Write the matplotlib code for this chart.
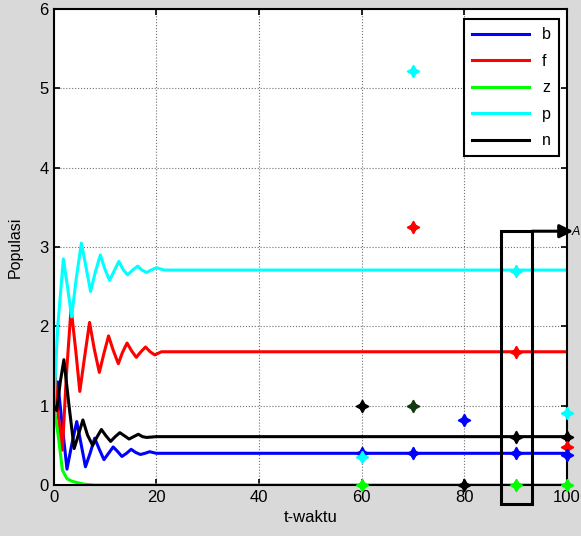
import matplotlib
matplotlib.use("Agg")
import matplotlib.pyplot as plt
from matplotlib.patches import Rectangle

plt.rcParams['font.family'] = ['Liberation Sans', 'DejaVu Sans']

# transient curves (t, value)
t_b = [0, 0.4, 0.8, 1.6, 2.6, 3.5, 4.5, 5.4, 6.2, 7.1, 8.0, 8.9, 9.8, 10.7, 11.6, 12.5, 13.3, 14.2,
       15.1, 16.0, 16.9, 17.8, 18.7, 20, 25, 100]
y_b = [0.9, 1.1, 1.3, 0.8, 0.2, 0.5, 0.8, 0.5, 0.23, 0.4, 0.59, 0.45, 0.32, 0.40, 0.48, 0.42, 0.36, 0.40,
       0.45, 0.41, 0.385, 0.40, 0.42, 0.40, 0.40, 0.40]

t_f = [0, 0.7, 1.7, 2.5, 3.4, 4.3, 5.1, 6.0, 7.0, 7.9, 8.9, 9.8, 10.7, 11.6, 12.6, 13.4, 14.3, 15.2,
       16.1, 17.0, 17.9, 18.8, 19.7, 21, 25, 100]
y_f = [1.68, 0.99, 0.44, 1.4, 2.23, 1.7, 1.18, 1.6, 2.05, 1.72, 1.42, 1.66, 1.88, 1.70, 1.53, 1.67, 1.79, 1.69,
       1.61, 1.68, 1.74, 1.68, 1.64, 1.68, 1.68, 1.68]

t_z = [0, 0.5, 1.0, 1.7, 2.6, 3.5, 4.6, 6.0, 8.0, 100]
y_z = [1.0, 0.8, 0.57, 0.19, 0.08, 0.05, 0.03, 0.01, 0.0, 0.0]

t_p = [0, 0.8, 1.9, 2.7, 3.5, 4.4, 5.4, 6.3, 7.2, 8.1, 9.1, 10.0, 10.9, 11.8, 12.7, 13.5, 14.4, 15.4,
       16.4, 17.2, 18.1, 19.0, 20.0, 21.5, 25, 100]
y_p = [0.95, 2.0, 2.85, 2.5, 2.12, 2.6, 3.05, 2.75, 2.44, 2.68, 2.90, 2.72, 2.58, 2.70, 2.82, 2.72, 2.65, 2.71,
       2.76, 2.71, 2.68, 2.71, 2.74, 2.71, 2.71, 2.71]

t_n = [0, 0.6, 1.3, 2.0, 3.0, 4.0, 4.9, 5.7, 6.6, 7.6, 8.4, 9.3, 10.2, 11.1, 12.0, 12.9, 13.8, 14.7,
       15.6, 16.5, 17.3, 18.1, 20, 25, 100]
y_n = [1.0, 0.94, 1.3, 1.58, 1.0, 0.46, 0.65, 0.82, 0.63, 0.50, 0.60, 0.70, 0.62, 0.55, 0.61, 0.66, 0.62, 0.58,
       0.61, 0.64, 0.61, 0.60, 0.61, 0.61, 0.61]

# scattered point markers (t, value, colour)
pts_t = [60, 60, 60, 60, 70, 70, 70, 70, 80, 80, 90, 90, 90, 90, 90, 100, 100, 100, 100, 100]
pts_y = [1.0, 0.4, 0.35, 0.0, 5.22, 3.25, 1.0, 0.4, 0.82, 0.0, 2.7, 1.68, 0.61, 0.4, 0.0, 0.91, 0.61, 0.48, 0.38, 0.0]
pts_c = ['k', 'b', 'cyan', 'lime', 'cyan', 'r', '#143a14', 'b', 'b', 'k', 'cyan', 'r', 'k', 'b', 'lime',
         'cyan', 'k', 'r', 'b', 'lime']

fig = plt.figure(figsize=(5.81, 5.36), dpi=100, facecolor='#d9d9d9')
ax = fig.add_axes([0.0923, 0.0951, 0.976 - 0.0923, 0.983 - 0.0951])

style = dict(lw=2.2, solid_joinstyle='round')
ax.plot(t_b, y_b, color='b', label='b', **style)
ax.plot(t_f, y_f, color='r', label='f', **style)
ax.plot(t_z, y_z, color='lime', label='z', **style)
ax.plot(t_p, y_p, color='cyan', label='p', **style)
ax.plot(t_n, y_n, color='k', label='n', **style)

for x, y, c in zip(pts_t, pts_y, pts_c):
    ax.plot(x, y, marker=(4, 1, 0), markersize=9, color=c, markeredgewidth=1, zorder=5, clip_on=False)

ax.set_xlim(0, 100)
ax.set_ylim(0, 6)
ax.set_xticks([0, 20, 40, 60, 80, 100])
ax.set_yticks([0, 1, 2, 3, 4, 5, 6])
ax.grid(True, color='#707070', linestyle=':', linewidth=0.8)
ax.tick_params(direction='in', length=4, width=1.2, labelsize=12, top=True, right=True)
for s in ax.spines.values():
    s.set_linewidth(1.5)

ax.set_xlabel('t-waktu', fontsize=12, labelpad=4)
ax.set_ylabel('Populasi', fontsize=11.5, labelpad=12)

leg = ax.legend(loc='upper right', bbox_to_anchor=(0.984, 0.979), borderaxespad=0, fontsize=11.5,
                handlelength=3.6, fancybox=False, framealpha=1, edgecolor='k', borderpad=0.5,
                labelspacing=0.72, handletextpad=0.8)
leg.get_frame().set_linewidth(1.5)

# highlight box and arrow
ax.add_patch(Rectangle((87.2, -0.24), 6.0, 3.44, fill=False, edgecolor='k', lw=2.2,
                       clip_on=False, zorder=6))
ax.annotate('', xy=(101.2, 3.2), xytext=(93.2, 3.2), annotation_clip=False,
            arrowprops=dict(arrowstyle='-|>', color='k', lw=2.2, mutation_scale=20,
                            shrinkA=0, shrinkB=0))
fig.text(0.999, 0.567, 'A', fontsize=9, style='italic', ha='right', va='center')

fig.savefig('out.png', dpi=100, facecolor=fig.get_facecolor())
